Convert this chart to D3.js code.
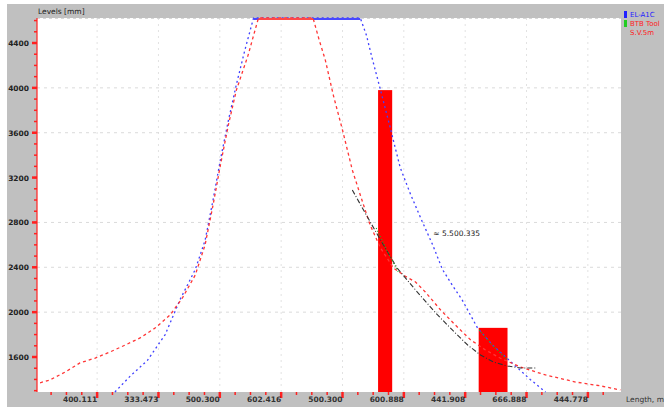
<!DOCTYPE html>
<html><head><meta charset="utf-8">
<script src="https://cdn.jsdelivr.net/npm/d3@7"></script>
<style>body{margin:0;background:#fff}svg{display:block}text{font-family:"DejaVu Sans",sans-serif}</style>
</head><body><svg id="c" width="664" height="407"></svg>
<script>
// ---- data ----
const xTickValues = [0,1,2,3,4,5,6,7,8];
const xTickLabels = ["400.111","333.473","500.300","602.416","500.300","600.888","441.908","666.888","444.778"];
const yTickValues = [4400,4000,3600,3200,2800,2400,2000,1600];
const yTickLabels = ["4400","4000","3600","3200","2800","2400","2000","1600"];
const yGridValues = [4000,3600,2800,2400,2000];

const blueX = [0.29,0.54,0.82,1.11,1.35,1.60,1.76,1.89,2.01,2.14,2.27,2.41,2.55,4.29,4.39,4.49,4.62,4.78,4.94,5.11,5.29,5.47,5.63,5.79,5.95,6.20,6.44,6.74,7.06,7.31];
const blueY = [1288,1430,1570,1800,2110,2380,2640,3000,3360,3710,4030,4340,4623,4623,4470,4250,3980,3640,3290,3050,2820,2600,2380,2240,2110,1860,1710,1560,1400,1288];

const redX = [-0.93,-0.77,-0.52,-0.28,-0.03,0.21,0.46,0.70,0.95,1.19,1.39,1.60,1.76,1.89,2.01,2.14,2.27,2.46,2.63,3.52,3.62,3.72,3.85,4.00,4.16,4.29,4.45,4.62,4.83,5.02,5.19,5.35,5.60,5.84,6.09,6.33,6.57,6.90,7.31,7.80,8.21,8.53];
const redY = [1370,1395,1466,1547,1591,1645,1707,1770,1860,1975,2126,2331,2600,2955,3312,3670,3980,4290,4623,4623,4427,4248,3936,3624,3268,3045,2777,2572,2394,2322,2269,2180,2019,1885,1752,1663,1591,1511,1440,1377,1342,1306];

const fitX = [4.16,4.37,4.62,4.89,5.19,5.55,5.79,6.04,6.25,6.46,6.69,6.90,7.15];
const fitY = [3089,2884,2643,2394,2198,1975,1841,1707,1618,1555,1520,1502,1502];

const greenX = [4.55,4.72,4.91,null,6.23,6.44,6.69];
const greenY = [2750,2554,2358,null,1841,1707,1573];

const barStart = [4.58,6.22];
const barEnd   = [4.81,6.69];
const barValue = [3980,1860];

const legendNames = ["EL-A1C","BTB Tool","S.V.5m"];
const annotation = {x:5.48, y:2706, text:"≈ 5.500.335"};
const yTitle = "Levels [mm]";
const xTitle = "Length, m";

// ---- chart ----
const svg = d3.select("#c");
const L=37, R=621, T=18, B=392;
const yMax = 4623;
const x = d3.scaleLinear().domain([-0.98,8.54]).range([L,R]);
const y = d3.scaleLinear().domain([1288,yMax]).range([B,T]);

svg.append("rect").attr("x",7).attr("y",4).attr("width",657).attr("height",403).attr("fill","#c0c0c0");
svg.append("rect").attr("x",L).attr("y",T).attr("width",R-L).attr("height",B-T).attr("fill","#fff");

// grid
const g = svg.append("g");
g.selectAll(".gx").data(xTickValues).enter().append("line")
  .attr("x1",d=>x(d)).attr("x2",d=>x(d)).attr("y1",T).attr("y2",B)
  .attr("stroke","#e2e2e2").attr("stroke-dasharray","2,4");
g.selectAll(".gy").data(yGridValues).enter().append("line")
  .attr("x1",L).attr("x2",R).attr("y1",d=>y(d)).attr("y2",d=>y(d))
  .attr("stroke","#dadada").attr("stroke-dasharray","3,4");
g.append("line").attr("x1",L).attr("x2",R).attr("y1",T+0.5).attr("y2",T+0.5)
  .attr("stroke","#d8d8d8").attr("stroke-dasharray","3,3");

// bars
svg.selectAll(".bar").data(barValue).enter().append("rect")
  .attr("x",(d,i)=>x(barStart[i])).attr("width",(d,i)=>x(barEnd[i])-x(barStart[i]))
  .attr("y",d=>y(d)).attr("height",d=>B-y(d)).attr("fill","#ff0000");

const line = (xs,ys)=>d3.line().defined((d,i)=>xs[i]!==null).x((d,i)=>x(xs[i])).y((d,i)=>y(ys[i]))(xs);
// clipped (flat top) segments drawn solid
function topSeg(xs,ys,color){
  const idx = ys.map((v,i)=>v>=yMax?i:-1).filter(i=>i>=0);
  if(idx.length>1){
    svg.append("line").attr("x1",x(xs[idx[0]])).attr("x2",x(xs[idx[idx.length-1]]))
      .attr("y1",y(yMax)+1).attr("y2",y(yMax)+1).attr("stroke",color).attr("stroke-width",2);
  }
}

svg.append("path").attr("d",line(blueX,blueY)).attr("fill","none")
  .attr("stroke","#4040ff").attr("stroke-width",1.3).attr("stroke-dasharray","2,3");
topSeg(blueX,blueY,"#4848ff");
svg.append("path").attr("d",line(redX,redY)).attr("fill","none")
  .attr("stroke","#ff3535").attr("stroke-width",1.3).attr("stroke-dasharray","3,3");
topSeg(redX,redY,"#ff4848");
svg.append("path").attr("d",line(fitX,fitY)).attr("fill","none")
  .attr("stroke","#333").attr("stroke-width",1.1).attr("stroke-dasharray","5,2,1,2");
svg.append("path").attr("d",line(greenX,greenY)).attr("fill","none")
  .attr("stroke","#22aa22").attr("stroke-width",1.2).attr("stroke-dasharray","1,2");
svg.append("text").attr("x",x(annotation.x)).attr("y",y(annotation.y)+3)
  .attr("font-size",7.5).attr("fill","#222").text(annotation.text);

// y axis
svg.append("line").attr("x1",L).attr("x2",L).attr("y1",T).attr("y2",B).attr("stroke","#ff2020").attr("stroke-width",1.2);
const yMinor = d3.range(1300,4601,100);
svg.selectAll(".ym").data(yMinor).enter().append("line")
  .attr("x1",L-3).attr("x2",L).attr("y1",d=>y(d)).attr("y2",d=>y(d)).attr("stroke","#ff2020").attr("stroke-width",1.5);
svg.selectAll(".yM").data(yTickValues).enter().append("line")
  .attr("x1",L-5).attr("x2",L).attr("y1",d=>y(d)).attr("y2",d=>y(d)).attr("stroke","#ff2020").attr("stroke-width",2.5);
svg.selectAll(".yl").data(yTickValues).enter().append("text")
  .attr("x",29).attr("y",d=>y(d)+3).attr("text-anchor","end").attr("font-size",7.5).attr("font-weight","bold")
  .attr("fill","#222").text((d,i)=>yTickLabels[i]);
svg.append("text").attr("x",38).attr("y",14).attr("font-size",7.5).attr("fill","#222").text(yTitle);

// x axis
const xMinor = d3.range(-0.75,8.5,0.25).filter(v=>Math.abs(v-Math.round(v))>0.01);
svg.selectAll(".xm").data(xMinor).enter().append("line")
  .attr("x1",d=>x(d)).attr("x2",d=>x(d)).attr("y1",B).attr("y2",B+3).attr("stroke","#ff2020").attr("stroke-width",1.5);
svg.selectAll(".xM").data(xTickValues).enter().append("line")
  .attr("x1",d=>x(d)).attr("x2",d=>x(d)).attr("y1",B).attr("y2",B+6).attr("stroke","#ff2020").attr("stroke-width",2.5);
svg.selectAll(".xl").data(xTickValues).enter().append("text")
  .attr("x",d=>x(d)).attr("y",402).attr("text-anchor","end").attr("font-size",7.5).attr("font-weight","bold")
  .attr("fill","#333").text((d,i)=>xTickLabels[i]);
svg.append("text").attr("x",626).attr("y",402).attr("font-size",7.5).attr("fill","#333").text(xTitle);

// legend
const legColors = ["#2020ff","#22cc22",null];
const legText = ["#2020ff","#ff2020","#ff2020"];
const lg = svg.append("g");
legendNames.forEach((n,i)=>{
  if(legColors[i]) lg.append("rect").attr("x",624).attr("y",11+i*9).attr("width",3).attr("height",7).attr("fill",legColors[i]);
  lg.append("text").attr("x",630).attr("y",17+i*9).attr("font-size",7).attr("fill",legText[i]).text(n);
});
</script></body></html>
